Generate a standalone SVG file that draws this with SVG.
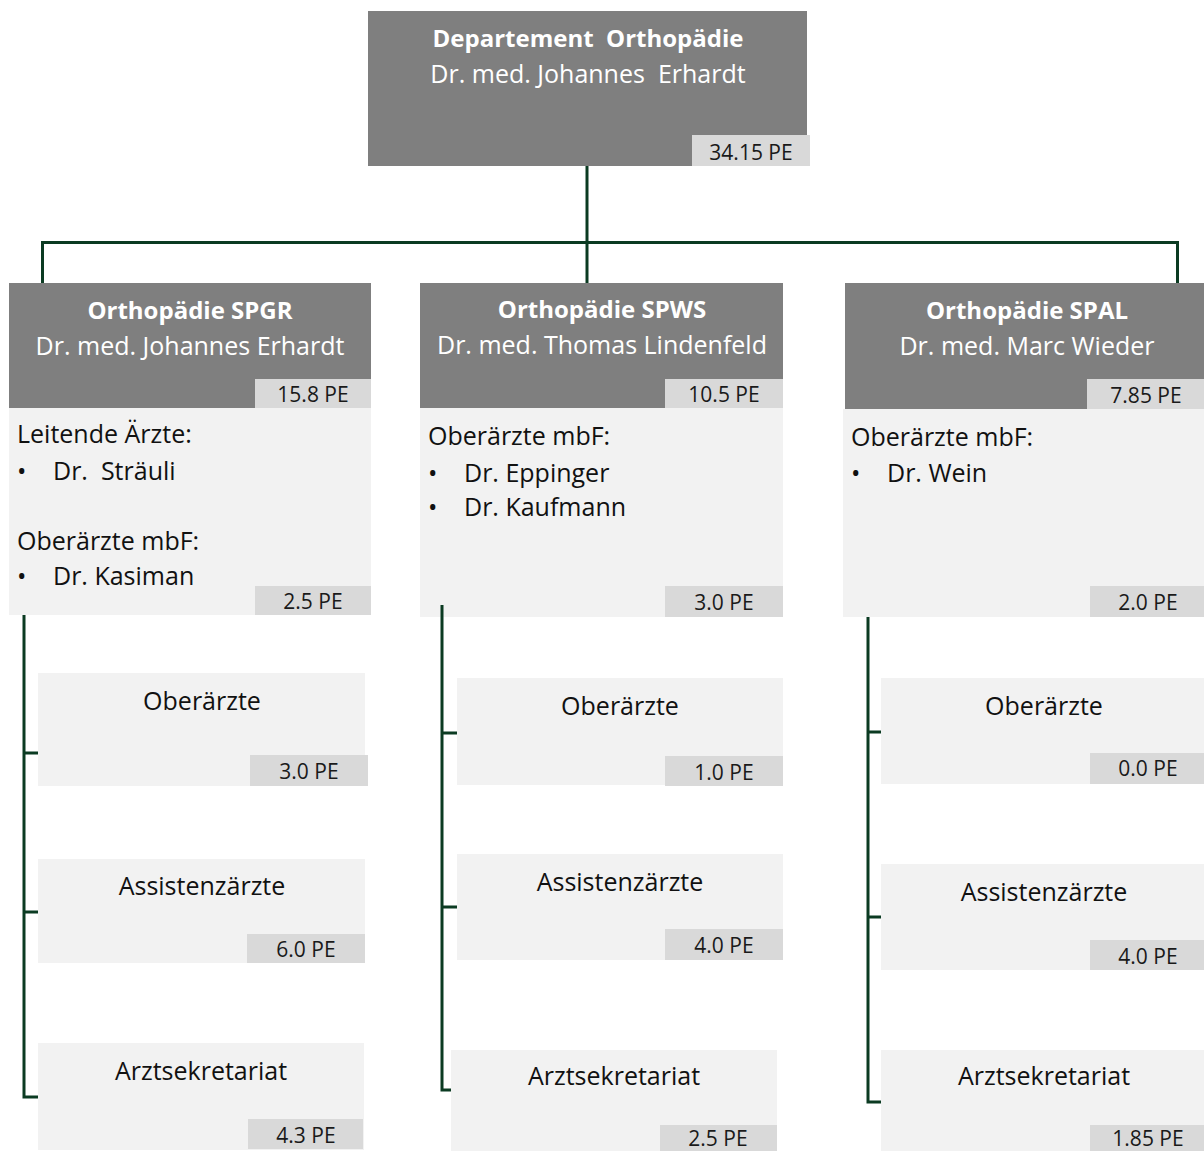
<svg xmlns="http://www.w3.org/2000/svg" width="1204" height="1151" viewBox="0 0 1204 1151">
<style>
.hdr{fill:#7f7f7f}
.bdy{fill:#f2f2f2}
.pe{fill:#d9d9d9}
text{font-family:"Open Sans","Noto Sans",sans-serif;white-space:pre}
.h1{font-size:24px;font-weight:bold;fill:#fff;text-anchor:middle}
.h2{font-size:25px;fill:#fff;text-anchor:middle}
.tx{font-size:25px;fill:#111}
.lb{font-size:25px;fill:#111;text-anchor:middle}
.pt{font-size:21px;fill:#1a1a1a;text-anchor:middle}
.conn{stroke:#0b3b22;stroke-width:3;fill:none}
</style>
<rect width="1204" height="1151" fill="#fff"/>

<g id="top">
<rect class="hdr" x="368" y="11" width="439" height="155"/>
<rect class="pe" x="692" y="135" width="118" height="31"/>
<text class="h1" x="588" y="47">Departement  Orthopädie</text>
<text class="h2" x="588" y="83">Dr. med. Johannes  Erhardt</text>
<text class="pt" x="751" y="160">34.15 PE</text>
</g>

<g id="spgr">
<rect class="hdr" x="9" y="283" width="362" height="125"/>
<rect class="bdy" x="9" y="408" width="362" height="207"/>
<rect class="pe" x="255" y="379" width="116" height="29"/>
<rect class="pe" x="255" y="586" width="116" height="29"/>
<text class="h1" x="190" y="319">Orthopädie SPGR</text>
<text class="h2" x="190" y="355">Dr. med. Johannes Erhardt</text>
<text class="pt" x="313" y="402">15.8 PE</text>
<text class="tx" x="17" y="443">Leitende Ärzte:</text>
<text class="tx" x="17" y="480">•</text>
<text class="tx" x="53" y="480">Dr.  Sträuli</text>
<text class="tx" x="17" y="550">Oberärzte mbF:</text>
<text class="tx" x="17" y="585">•</text>
<text class="tx" x="53" y="585">Dr. Kasiman</text>
<text class="pt" x="313" y="609">2.5 PE</text>
</g>

<g id="spws">
<rect class="hdr" x="420" y="283" width="363" height="125"/>
<rect class="bdy" x="420" y="408" width="363" height="209"/>
<rect class="pe" x="665" y="379" width="118" height="29"/>
<rect class="pe" x="665" y="586" width="118" height="31"/>
<text class="h1" x="602" y="318">Orthopädie SPWS</text>
<text class="h2" x="602" y="354">Dr. med. Thomas Lindenfeld</text>
<text class="pt" x="724" y="402">10.5 PE</text>
<text class="tx" x="428" y="445">Oberärzte mbF:</text>
<text class="tx" x="428" y="482">•</text>
<text class="tx" x="464" y="482">Dr. Eppinger</text>
<text class="tx" x="428" y="516">•</text>
<text class="tx" x="464" y="516">Dr. Kaufmann</text>
<text class="pt" x="724" y="610">3.0 PE</text>
</g>

<g id="spal">
<rect class="hdr" x="845" y="283" width="364" height="126"/>
<rect class="bdy" x="843" y="409" width="366" height="208"/>
<rect class="pe" x="1087" y="379" width="122" height="30"/>
<rect class="pe" x="1090" y="586" width="119" height="31"/>
<text class="h1" x="1027" y="319">Orthopädie SPAL</text>
<text class="h2" x="1027" y="355">Dr. med. Marc Wieder</text>
<text class="pt" x="1146" y="403">7.85 PE</text>
<text class="tx" x="851" y="446">Oberärzte mbF:</text>
<text class="tx" x="851" y="482">•</text>
<text class="tx" x="887" y="482">Dr. Wein</text>
<text class="pt" x="1148" y="610">2.0 PE</text>
</g>

<g id="spgr-oa">
<rect class="bdy" x="38" y="673" width="327" height="113"/>
<rect class="pe" x="250" y="755" width="118" height="31"/>
<text class="lb" x="202" y="710">Oberärzte</text>
<text class="pt" x="309" y="779">3.0 PE</text>
</g>
<g id="spgr-aa">
<rect class="bdy" x="38" y="859" width="327" height="104"/>
<rect class="pe" x="247" y="934" width="118" height="29"/>
<text class="lb" x="202" y="895">Assistenzärzte</text>
<text class="pt" x="306" y="957">6.0 PE</text>
</g>
<g id="spgr-sek">
<rect class="bdy" x="38" y="1043" width="326" height="107"/>
<rect class="pe" x="248" y="1119" width="115" height="30"/>
<text class="lb" x="201" y="1080">Arztsekretariat</text>
<text class="pt" x="306" y="1143">4.3 PE</text>
</g>

<g id="spws-oa">
<rect class="bdy" x="457" y="678" width="326" height="107"/>
<rect class="pe" x="665" y="756" width="118" height="30"/>
<text class="lb" x="620" y="715">Oberärzte</text>
<text class="pt" x="724" y="780">1.0 PE</text>
</g>
<g id="spws-aa">
<rect class="bdy" x="457" y="854" width="326" height="106"/>
<rect class="pe" x="665" y="929" width="118" height="31"/>
<text class="lb" x="620" y="891">Assistenzärzte</text>
<text class="pt" x="724" y="953">4.0 PE</text>
</g>
<g id="spws-sek">
<rect class="bdy" x="451" y="1050" width="326" height="101"/>
<rect class="pe" x="660" y="1125" width="117" height="26"/>
<text class="lb" x="614" y="1085">Arztsekretariat</text>
<text class="pt" x="718" y="1146">2.5 PE</text>
</g>

<g id="spal-oa">
<rect class="bdy" x="881" y="678" width="326" height="106"/>
<rect class="pe" x="1090" y="753" width="117" height="31"/>
<text class="lb" x="1044" y="715">Oberärzte</text>
<text class="pt" x="1148" y="776">0.0 PE</text>
</g>
<g id="spal-aa">
<rect class="bdy" x="881" y="864" width="326" height="106"/>
<rect class="pe" x="1090" y="940" width="117" height="30"/>
<text class="lb" x="1044" y="901">Assistenzärzte</text>
<text class="pt" x="1148" y="964">4.0 PE</text>
</g>
<g id="spal-sek">
<rect class="bdy" x="881" y="1050" width="326" height="101"/>
<rect class="pe" x="1090" y="1125" width="117" height="26"/>
<text class="lb" x="1044" y="1085">Arztsekretariat</text>
<text class="pt" x="1148" y="1146">1.85 PE</text>
</g>

<g id="connectors" class="conn">
<path d="M587,166 V283"/>
<path d="M42.5,283 V242.5 H1177.5 V283"/>
<path d="M24,615 V1097 H38 M24,753 H38 M24,912 H38"/>
<path d="M442,605 V1090 H451 M442,733 H457 M442,907 H457"/>
<path d="M868,617 V1102 H881 M868,732 H881 M868,917 H881"/>
</g>
</svg>
